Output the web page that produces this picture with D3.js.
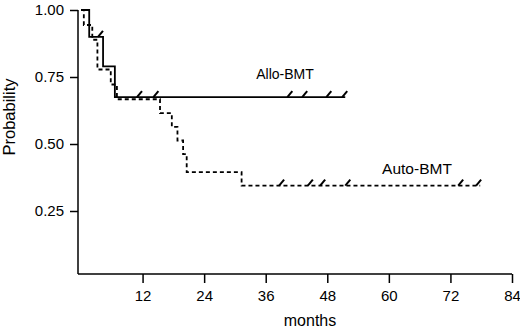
<!DOCTYPE html>
<html>
<head>
<meta charset="utf-8">
<script src="https://cdn.jsdelivr.net/npm/d3@7"></script>
<style>
  body { margin: 0; background: #fff; }
  svg { display: block; font-family: "Liberation Sans", Arial, sans-serif; }
</style>
</head>
<body>
<svg id="chart" width="520" height="328"></svg>
<script>
// Allo-BMT (solid) - step times in months and survival after each step
const alloTimes = [0, 1.6, 4.3, 6.6];
const alloSurv = [1.0, 0.90, 0.79, 0.675];
const alloEnd = 51.5;
const alloCensor = [3.7, 11.3, 14.5, 40.6, 43.5, 48.2, 51.3];

// Auto-BMT (dashed)
const autoTimes = [0, 0.55, 2.2, 3.2, 5.8, 7.0, 15.4, 17.7, 18.8, 19.9, 20.6, 31.3];
const autoSurv = [1.0, 0.944, 0.889, 0.778, 0.722, 0.667, 0.615, 0.564, 0.513, 0.462, 0.395, 0.345];
const autoEnd = 77.8;
const autoCensor = [39.0, 44.6, 47.0, 51.9, 73.9, 77.4];

const xTicks = [12, 24, 36, 48, 60, 72, 84];
const yTicks = [0.25, 0.50, 0.75, 1.00];

const svg = d3.select("#chart");

const x = d3.scaleLinear().domain([0, 84]).range([81, 512]);
const y = d3.scaleLinear().domain([0, 1]).range([278, 10]);

const axisLeftX = 78;
const axisBottomY = 274;

// step curve points, carried to last follow-up
const stepPoints = (times, surv, end) => {
    const pts = times.map((t, i) => [t, surv[i]]);
    pts.push([end, surv[surv.length - 1]]);
    return pts;
};

// survival level at a given time
const levelAt = (times, surv, t) => {
    let v = surv[0];
    times.forEach((tt, i) => { if (tt <= t) v = surv[i]; });
    return v;
};

const line = d3.line()
    .x(d => x(d[0]))
    .y(d => y(d[1]))
    .curve(d3.curveStepAfter);

// y axis
const yAxis = svg.append("g")
    .attr("transform", `translate(${axisLeftX},0)`)
    .call(d3.axisLeft(y).tickValues(yTicks).tickFormat(d3.format(".2f")).tickSize(8).tickPadding(6));
yAxis.select(".domain").attr("d", `M0,${y(1)}V${axisBottomY}`).attr("stroke-width", 1.5);
yAxis.selectAll(".tick line").attr("stroke-width", 1.5);
yAxis.selectAll("text").attr("font-size", 15).attr("fill", "#000");

// x axis
const xAxis = svg.append("g")
    .attr("transform", `translate(0,${axisBottomY})`)
    .call(d3.axisBottom(x).tickValues(xTicks).tickSize(9).tickPadding(7));
xAxis.select(".domain").attr("d", `M${axisLeftX},0H${x(84)}`).attr("stroke-width", 1.5);
xAxis.selectAll(".tick line").attr("stroke-width", 1.5);
xAxis.selectAll("text").attr("font-size", 15).attr("fill", "#000");

// axis titles
svg.append("text")
    .attr("transform", "translate(15,117) rotate(-90)")
    .attr("text-anchor", "middle")
    .attr("font-size", 16.5)
    .text("Probability");

svg.append("text")
    .attr("x", 310).attr("y", 326)
    .attr("text-anchor", "middle")
    .attr("font-size", 16)
    .text("months");

// curves
svg.append("path")
    .datum(stepPoints(alloTimes, alloSurv, alloEnd))
    .attr("d", line)
    .attr("fill", "none")
    .attr("stroke", "#000")
    .attr("stroke-width", 1.8);

svg.append("path")
    .datum(stepPoints(autoTimes, autoSurv, autoEnd))
    .attr("d", line)
    .attr("fill", "none")
    .attr("stroke", "#000")
    .attr("stroke-width", 1.8)
    .attr("stroke-dasharray", "4,3");

// censor marks (little slashes)
const drawCensor = (times, surv, cens) => {
    svg.append("g")
        .selectAll("line")
        .data(cens)
        .join("line")
        .attr("x1", d => x(d) - 2)
        .attr("y1", d => y(levelAt(times, surv, d)))
        .attr("x2", d => x(d) + 3)
        .attr("y2", d => y(levelAt(times, surv, d)) - 6)
        .attr("stroke", "#000")
        .attr("stroke-width", 2);
};
drawCensor(alloTimes, alloSurv, alloCensor);
drawCensor(autoTimes, autoSurv, autoCensor);

// series labels
svg.append("text")
    .attr("x", 285).attr("y", 79)
    .attr("text-anchor", "middle")
    .attr("font-size", 14)
    .text("Allo-BMT");

svg.append("text")
    .attr("x", 417).attr("y", 174)
    .attr("text-anchor", "middle")
    .attr("font-size", 15.5)
    .text("Auto-BMT");
</script>
</body>
</html>
